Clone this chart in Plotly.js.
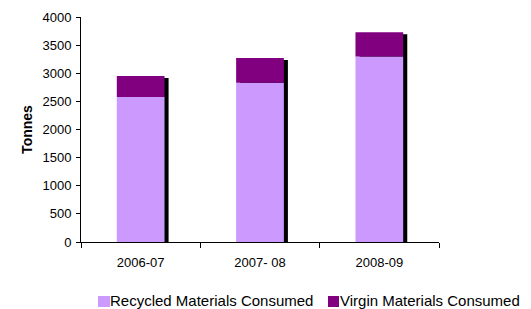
<!DOCTYPE html>
<html><head><meta charset="utf-8">
<script src="https://cdn.plot.ly/plotly-3.0.1.min.js"></script>
<style>html,body{margin:0;padding:0;background:#fff}#c{width:531px;height:309px}</style>
</head><body><div id="c"></div>
<script>
const categories = ["2006-07", "2007- 08", "2008-09"];
const recycled = [2580, 2830, 3300];
const virgin = [370, 440, 430];
const yTicks = [0, 500, 1000, 1500, 2000, 2500, 3000, 3500, 4000];
const seriesNames = ["Recycled Materials Consumed", "Virgin Materials Consumed"];
const seriesColors = ["#CC99FF", "#800080"];

const totals = recycled.map((r, i) => r + virgin[i]);
const barW = 0.4;
const shadowDx = 0.034;   // ~4px shift right
const shadowDy = 36;      // ~2px shift down

const traces = [
  {type: "bar", x: categories, y: totals.map(t => t - shadowDy), base: 0,
   width: barW, offset: -barW / 2 + shadowDx,
   marker: {color: "#000000", line: {width: 0}}, showlegend: false, hoverinfo: "skip"},
  {type: "bar", name: seriesNames[0], x: categories, y: recycled, base: 0,
   width: barW, offset: -barW / 2, marker: {color: seriesColors[0], line: {width: 0}}, showlegend: false},
  {type: "bar", name: seriesNames[1], x: categories, y: virgin, base: recycled,
   width: barW, offset: -barW / 2, marker: {color: seriesColors[1], line: {width: 0}}, showlegend: false}
];

// custom legend (paper coordinates; plot area 358 x 225 px)
const legSq = [[0.0475, 0.081], [0.690, 0.7207]];
const legTx = [0.0782, 0.7207];
const shapes = legSq.map((s, i) => ({
  type: "rect", xref: "paper", yref: "paper", x0: s[0], x1: s[1], y0: -0.240, y1: -0.289,
  fillcolor: seriesColors[i], line: {width: 0}
}));
const annotations = seriesNames.map((n, i) => ({
  text: n, xref: "paper", yref: "paper", x: legTx[i], y: -0.2578, xanchor: "left", yanchor: "middle",
  showarrow: false, borderpad: 0, font: {size: 15, color: "#000"}
}));

const layout = {
  width: 531, height: 309,
  margin: {l: 81, r: 92, t: 17, b: 67, autoexpand: false},
  barmode: "overlay",
  paper_bgcolor: "#fff", plot_bgcolor: "#fff",
  font: {family: "Liberation Sans, Arial, sans-serif", size: 13, color: "#000"},
  xaxis: {
    type: "category", showgrid: false, zeroline: false,
    showline: true, linecolor: "#000", linewidth: 1,
    ticks: "outside", tickson: "boundaries", ticklen: 5, tickcolor: "#000",
    tickfont: {size: 13}, ticklabelstandoff: 8
  },
  yaxis: {
    range: [0, 4000], tickvals: yTicks, showgrid: false, zeroline: false,
    showline: true, linecolor: "#000", linewidth: 1,
    ticks: "outside", ticklen: 4, tickcolor: "#000",
    tickfont: {size: 13}, ticklabelstandoff: 2,
    title: {text: "<b>Tonnes</b>", font: {size: 14}, standoff: 6}
  },
  shapes: shapes,
  annotations: annotations,
  showlegend: false
};

Plotly.newPlot("c", traces, layout, {displayModeBar: false, staticPlot: true});
</script></body></html>
